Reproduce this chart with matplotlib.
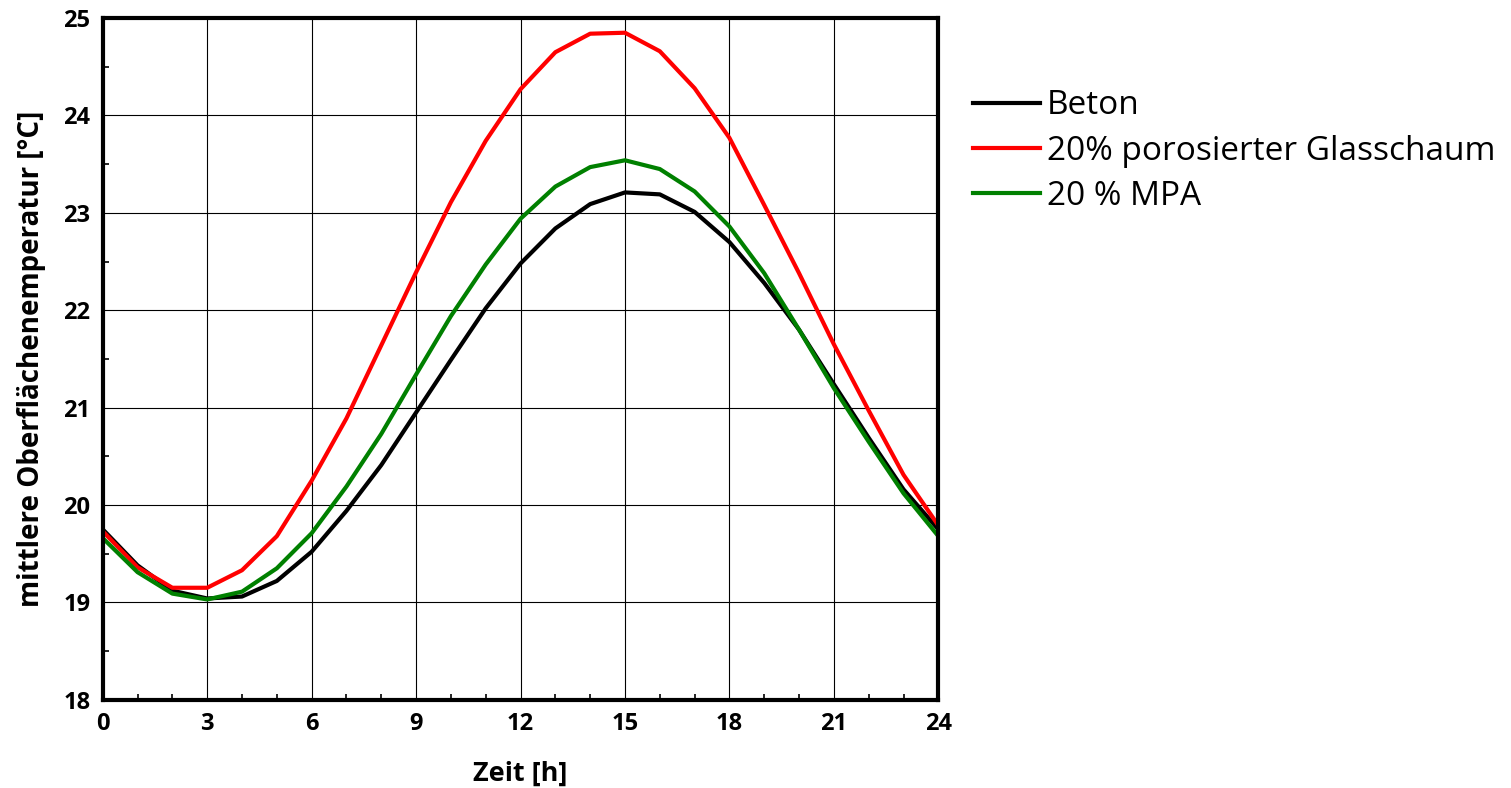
import matplotlib.pyplot as plt
from matplotlib.ticker import MultipleLocator

# hourly surface temperatures over one day
hours = list(range(25))
beton = [19.75, 19.38, 19.12, 19.04, 19.06, 19.22, 19.52, 19.94, 20.41, 20.95,
         21.49, 22.02, 22.48, 22.84, 23.09, 23.21, 23.19, 23.01, 22.70, 22.28,
         21.80, 21.24, 20.69, 20.16, 19.75]
glasschaum = [19.73, 19.36, 19.15, 19.15, 19.33, 19.68, 20.25, 20.89, 21.64, 22.39,
              23.11, 23.74, 24.27, 24.65, 24.84, 24.85, 24.66, 24.28, 23.77, 23.08,
              22.38, 21.65, 20.97, 20.31, 19.79]
mpa = [19.66, 19.31, 19.09, 19.03, 19.11, 19.35, 19.71, 20.19, 20.73, 21.34,
       21.94, 22.47, 22.94, 23.27, 23.47, 23.54, 23.45, 23.22, 22.86, 22.38,
       21.80, 21.20, 20.65, 20.12, 19.68]

plt.rcParams['font.family'] = ['Open Sans', 'DejaVu Sans']

fig = plt.figure(figsize=(15.11, 7.88), dpi=100)
ax = fig.add_axes([0.068, 0.112, 0.553, 0.865])

ax.plot(hours, beton, color='black', lw=3, label='Beton')
ax.plot(hours, glasschaum, color='#ff0000', lw=3, label='20% porosierter Glasschaum')
ax.plot(hours, mpa, color='#008000', lw=3, label='20 % MPA')

ax.set_xlim(0, 24)
ax.set_ylim(18, 25)
ax.xaxis.set_major_locator(MultipleLocator(3))
ax.xaxis.set_minor_locator(MultipleLocator(1))
ax.yaxis.set_major_locator(MultipleLocator(1))
ax.yaxis.set_minor_locator(MultipleLocator(0.5))
ax.grid(True, which='major', color='black', lw=0.8)
ax.tick_params(which='major', length=0, pad=9, labelsize=17)
ax.tick_params(which='minor', direction='in', length=4, width=1.2)
for lab in ax.get_xticklabels() + ax.get_yticklabels():
    lab.set_fontweight('bold')
for sp in ax.spines.values():
    sp.set_linewidth(3)

ax.set_xlabel('Zeit [h]', fontsize=19.5, fontweight='bold', labelpad=18)
ax.set_ylabel('mittlere Oberflächenemperatur [°C]', fontsize=20,
              fontweight='bold', labelpad=12)

ax.legend(loc='upper left', bbox_to_anchor=(1.026, 0.915), frameon=False,
          fontsize=24, handlelength=2.0, handletextpad=0.2, labelspacing=0.37,
          borderaxespad=0)

fig.savefig('out.png', dpi=100)
